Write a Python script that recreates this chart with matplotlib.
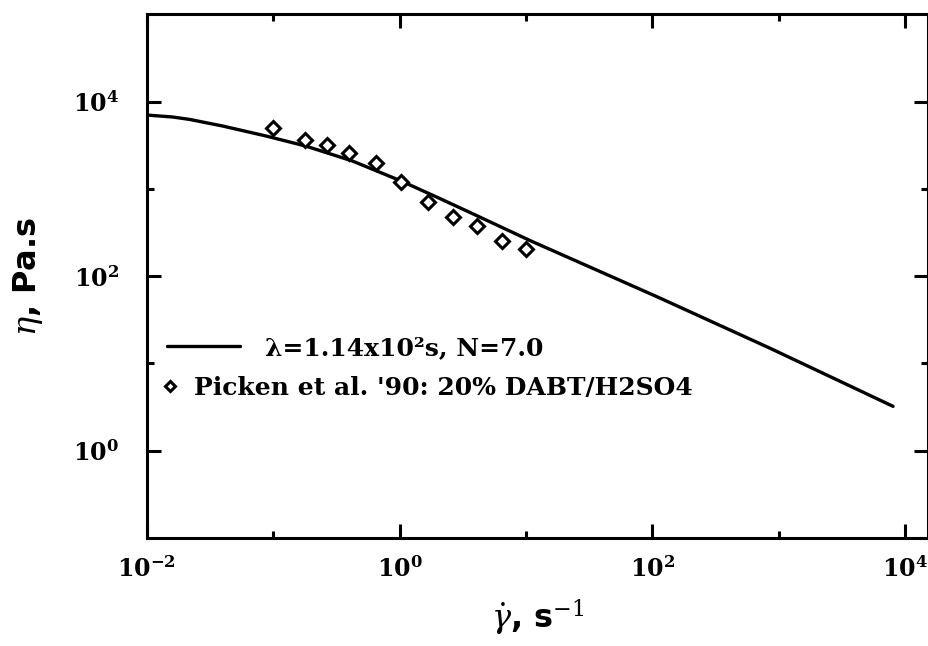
import matplotlib
matplotlib.use('Agg')
import matplotlib.pyplot as plt
from matplotlib.ticker import FixedLocator, FixedFormatter, NullFormatter

plt.rcParams['mathtext.fontset'] = 'dejavuserif'

# model curve, lambda = 1.14e2 s, N = 7.0
model_rate = [0.0100, 0.0160, 0.0218, 0.0399, 0.0877, 0.181, 0.421, 1.02, 1.91,
              3.29, 11.0, 109, 855, 8000]
model_visc = [7000, 6650, 6240, 5240, 4030, 3090, 2090, 1236, 820,
              570, 252, 58, 14.9, 3.23]

# Picken et al. '90, 20% DABT/H2SO4
exp_rate = [0.10, 0.178, 0.268, 0.40, 0.65, 1.02, 1.67, 2.66, 4.06, 6.4, 10.0]
exp_visc = [5000, 3620, 3180, 2550, 2000, 1185, 700, 473, 380, 252, 206]

x_major = [1e-2, 1e0, 1e2, 1e4]
x_minor = [1e-1, 1e1, 1e3]
x_labels = [r'$\mathbf{10^{-2}}$', r'$\mathbf{10^{0}}$', r'$\mathbf{10^{2}}$', r'$\mathbf{10^{4}}$']
y_major = [1e0, 1e2, 1e4]
y_minor = [1e1, 1e3]
y_labels = [r'$\mathbf{10^{0}}$', r'$\mathbf{10^{2}}$', r'$\mathbf{10^{4}}$']

fig = plt.figure(figsize=(9.29, 6.46), dpi=100)
ax = fig.add_axes([0.158, 0.167, 0.841, 0.811])

line, = ax.plot(model_rate, model_visc, color='black', lw=2.4, solid_capstyle='round',
                solid_joinstyle='round')
pts, = ax.plot(exp_rate, exp_visc, ls='none', marker='D', ms=7.5, mfc='white',
               mec='black', mew=2.2)

ax.set_xscale('log')
ax.set_yscale('log')
ax.set_xlim(1e-2, 10 ** 4.18)
ax.set_ylim(1e-1, 1e5)

ax.xaxis.set_major_locator(FixedLocator(x_major))
ax.xaxis.set_major_formatter(FixedFormatter(x_labels))
ax.xaxis.set_minor_locator(FixedLocator(x_minor))
ax.xaxis.set_minor_formatter(NullFormatter())
ax.yaxis.set_major_locator(FixedLocator(y_major))
ax.yaxis.set_major_formatter(FixedFormatter(y_labels))
ax.yaxis.set_minor_locator(FixedLocator(y_minor))
ax.yaxis.set_minor_formatter(NullFormatter())

ax.tick_params(which='both', direction='in', top=True, right=True, width=2.2)
ax.tick_params(which='major', length=10)
ax.tick_params(which='minor', length=5)
ax.tick_params(axis='x', which='major', labelsize=17, pad=13)
ax.tick_params(axis='y', which='major', labelsize=17, pad=20)
for sp in ax.spines.values():
    sp.set_linewidth(2.2)

ax.set_xlabel(r'$\dot{\gamma}$, s$^{-1}$', fontsize=23, fontweight='bold',
              family='DejaVu Sans')
ax.xaxis.set_label_coords(0.5, -0.115)
ax.set_ylabel(r'$\eta$, Pa.s', fontsize=23, fontweight='bold', family='DejaVu Sans')
ax.yaxis.set_label_coords(-0.13, 0.5)

leg_font = {'family': 'DejaVu Serif', 'weight': 'bold', 'size': 18}
leg1 = ax.legend([line], ['λ=1.14x10²s, N=7.0'], loc='center left',
                 bbox_to_anchor=(0.026, 0.363), frameon=False, prop=leg_font,
                 handlelength=2.9, handletextpad=1.0, borderpad=0, borderaxespad=0)
ax.add_artist(leg1)
ax.legend([pts], ["Picken et al. '90: 20% DABT/H2SO4"], loc='center left',
          bbox_to_anchor=(0.022, 0.287), frameon=False, prop=leg_font,
          handlelength=0.5, handletextpad=0.7, borderpad=0, borderaxespad=0,
          markerscale=0.7)

fig.savefig('out.png', dpi=100)
